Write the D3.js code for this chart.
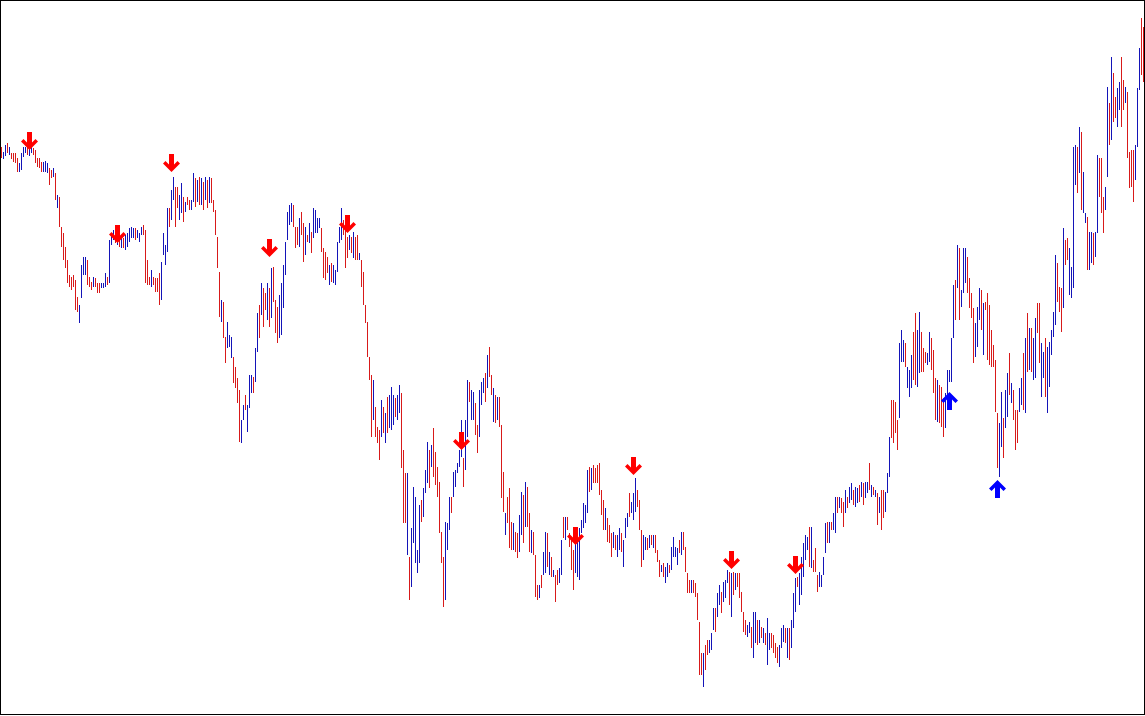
<!DOCTYPE html>
<html>
<head>
<meta charset="utf-8">
<script src="https://cdn.jsdelivr.net/npm/d3@7"></script>
<style>
  body { margin: 0; background: #fff; }
  svg { display: block; }
</style>
</head>
<body>
<svg width="1145" height="716"></svg>
<script>
// high / low per bar (price index), one bar per period
const highs = [
  853,848,855,857,853,847,847,847,842,837, 847,853,853,853,852,853,852,850,842,842,
  838,838,839,837,832,830,832,827,805,803, 773,767,753,740,725,723,725,720,703,695,
  735,743,743,740,723,718,723,722,717,717, 717,717,727,723,760,765,770,770,775,765,
  762,762,765,767,772,773,772,772,770,767, 773,775,770,740,723,730,723,722,722,727,
  738,767,755,792,792,810,823,813,813,805, 817,803,798,803,800,800,827,822,820,823,
  822,818,823,820,823,822,800,790,763,728, 700,698,663,678,665,663,643,633,622,610,
  580,595,605,595,625,625,623,652,687,695, 717,712,707,717,712,732,733,700,693,705,
  717,735,758,788,795,797,795,773,773,782, 788,777,773,765,777,768,792,790,782,782,
  772,752,748,743,735,737,735,730,758,773, 792,780,770,763,765,763,768,763,765,747,
  740,728,695,678,643,625,620,593,573,570, 600,593,587,603,605,613,605,602,605,615,
  607,550,527,527,443,472,513,503,450,495, 500,512,530,558,550,555,572,548,533,518,
  468,443,478,477,503,503,528,530,537,550, 580,542,580,620,618,610,608,597,575,610,
  618,622,627,645,653,625,612,605,603,603, 575,528,487,503,512,478,477,468,467,485,
  508,505,518,513,487,470,468,445,415,415, 425,448,468,467,448,443,430,425,430,432,
  460,483,483,483,467,460,450,457,460,472, 480,497,495,530,533,532,535,532,535,537,
  510,500,492,482,475,467,468,465,465,472, 467,460,482,487,507,498,507,522,510,500,
  470,465,463,462,465,465,465,465,450,440, 435,437,433,437,435,453,463,453,452,460,
  468,468,453,427,420,420,420,417,407,378, 347,347,355,360,360,367,392,392,407,415,
  408,418,420,430,428,427,428,427,427,427, 408,388,380,375,378,373,388,388,380,380,
  373,372,367,382,367,367,365,357,353,355, 372,375,372,372,372,380,407,422,423,427,
  443,457,465,463,473,473,440,452,425,428, 425,443,477,478,478,478,487,503,503,503,
  502,498,510,503,513,517,510,513,512,515, 518,517,518,518,537,515,513,510,507,503,
  510,510,508,527,563,600,600,598,580,657, 670,660,657,633,630,645,668,687,670,688,
  668,652,648,647,668,662,650,622,620,615, 613,602,607,630,630,662,715,720,755,752,
  710,752,752,743,722,707,692,677,693,712, 710,697,698,707,695,670,655,640,587,577,
  608,582,610,627,647,617,610,590,590,612, 622,647,662,687,672,672,662,682,697,697,
  657,648,662,653,658,670,688,745,737,713, 712,772,760,762,752,733,853,855,853,873,
  868,828,787,783,768,768,767,768,845,842, 842,803,813,913,897,943,927,903,912,918,
  943,920,913,908,848,850,850,855,912,952, 982,973
];

const lows = [
  842,841,844,847,845,841,838,837,828,828, 830,843,847,845,844,847,845,837,833,832,
  828,828,828,827,815,822,823,800,792,773, 753,740,732,717,713,710,713,690,688,677,
  702,725,725,715,713,710,713,713,707,707, 712,712,713,715,717,755,760,757,755,753,
  752,752,750,753,758,762,762,760,762,758, 765,765,717,715,715,713,715,708,708,695,
  700,745,735,748,773,780,800,773,792,780, 787,778,788,795,790,790,798,793,798,795,
  795,790,800,792,797,797,788,765,732,683, 678,662,637,652,653,642,617,612,597,558,
  557,580,590,568,592,607,607,618,648,662, 685,673,690,680,673,682,698,667,657,662,
  665,692,725,760,775,778,773,752,755,753, 765,738,745,758,757,747,762,767,767,772,
  748,722,720,727,715,718,717,715,728,757, 760,765,732,742,750,747,742,740,740,740,
  713,695,677,643,620,563,580,563,557,540, 563,567,557,567,572,570,575,583,580,587,
  532,477,477,445,400,413,457,437,427,437, 478,483,507,517,512,533,523,515,503,467,
  437,393,400,450,470,487,503,513,527,533, 543,513,530,563,598,580,580,565,547,563,
  595,607,598,612,623,605,578,577,580,573, 502,488,465,477,452,450,450,448,442,448,
  465,457,473,473,448,447,445,403,400,402, 412,425,427,433,425,423,423,398,415,417,
  425,462,460,470,453,430,410,427,423,420, 467,472,477,487,508,510,517,517,517,505,
  485,470,470,458,457,443,452,450,443,450, 448,433,462,473,483,487,480,488,493,470,
  433,440,450,450,452,455,452,447,438,423, 428,423,417,423,427,430,443,443,435,447,
  445,450,428,407,407,407,407,403,380,325, 325,313,330,345,347,350,370,368,383,395,
  387,398,402,417,395,383,405,410,413,402, 388,368,365,363,367,352,342,357,355,357,
  362,357,355,335,350,352,347,342,337,333, 352,358,357,342,340,352,372,388,413,395,
  405,423,440,450,433,432,428,428,408,413, 413,425,447,457,457,470,470,467,487,492,
  487,473,487,492,497,500,495,493,497,498, 503,495,502,507,510,503,505,503,475,487,
  470,482,488,507,523,562,557,567,550,582, 638,638,633,612,603,612,620,615,613,627,
  628,628,637,635,638,630,607,580,578,577, 573,563,572,600,618,618,662,680,712,680,
  693,707,717,707,692,682,637,643,653,680, 670,645,690,640,635,633,633,588,532,523,
  553,542,572,583,605,597,580,550,557,588, 595,590,587,628,630,628,620,622,667,637,
  603,622,603,587,613,645,663,675,698,688, 668,692,735,740,705,702,712,815,807,827,
  790,787,777,730,730,737,735,743,767,803, 787,767,790,823,855,860,878,882,873,890,
  873,890,897,842,812,813,798,820,853,910, 925,918
];

// 1 = up bar (blue), 0 = down bar (red)
const ups = [
  0,1,1,0,1,0,0,0,0,1, 1,1,1,0,1,1,0,0,0,0, 0,1,1,1,0,0,1,0,1,0, 0,0,0,0,0,0,0,0,0,1,
  1,1,1,0,0,0,1,0,0,0, 1,1,1,0,1,1,1,0,1,0, 1,0,1,1,1,1,1,0,1,1, 1,0,0,0,0,1,0,0,0,0,
  1,1,1,1,0,1,1,0,0,1, 1,0,1,0,0,1,1,0,1,0, 1,0,1,0,1,0,0,0,0,0, 1,0,0,1,1,1,0,0,0,0,
  1,1,0,1,1,1,0,1,1,0, 1,0,0,1,0,1,0,0,0,1, 1,1,1,1,1,1,0,0,0,1, 0,0,1,0,1,0,1,1,1,1,
  0,0,0,0,1,0,1,1,1,1, 1,0,0,0,1,0,1,0,0,1, 0,0,0,0,0,0,1,0,0,0, 1,0,1,0,1,1,1,0,1,1,
  0,0,0,1,0,1,1,1,1,1, 0,1,1,1,0,1,0,0,0,0, 0,0,1,1,1,0,1,1,1,1, 1,0,1,1,0,1,1,0,0,1,
  1,1,0,1,0,0,1,0,1,0, 0,0,1,0,0,0,1,0,0,1, 1,0,1,0,0,1,0,0,0,1, 0,1,1,0,1,0,1,0,0,1,
  1,0,1,0,0,0,0,1,1,1, 1,1,1,1,0,1,0,0,0,0, 0,0,1,0,0,0,1,0,1,1, 0,1,1,1,0,1,1,1,0,0,
  0,1,1,0,1,0,1,0,0,0, 1,0,1,1,0,1,1,1,1,0, 1,0,0,0,0,1,0,0,0,0, 0,1,0,0,1,1,1,0,1,1,
  0,1,1,1,0,1,0,1,0,0, 0,0,0,1,1,0,1,1,0,1, 0,1,0,1,1,0,0,0,0,1, 1,1,0,1,0,1,1,1,0,1,
  1,1,1,1,0,1,0,0,0,1, 1,1,1,0,1,0,1,1,0,1, 0,0,1,0,1,1,0,1,1,0, 1,0,1,1,0,1,0,1,0,1,
  0,0,1,1,1,0,0,0,0,1, 1,1,0,1,1,1,0,0,1,1, 0,0,0,1,1,0,0,0,1,0, 0,0,1,1,1,1,1,0,1,0,
  1,1,1,0,0,0,0,1,1,1, 0,1,0,0,0,0,0,0,0,1, 1,0,1,1,0,1,0,0,0,1, 1,0,1,0,1,0,1,1,0,0,
  1,1,0,1,1,1,1,1,0,0, 0,1,0,0,1,1,1,1,0,1, 0,1,1,0,1,1,0,1,1,0, 0,0,1,1,0,1,0,0,1,1,
  0,0,1,0,0,0,0,1,1,1, 0,0
];

// signal arrows: bar index, price of the arrow tip, kind
const arrowBar   = [14, 58, 85, 134, 173, 230, 287, 316, 365, 397, 474, 498];
const arrowPrice = [850, 757, 828, 743, 767, 550, 455, 525, 431, 426, 608, 520];
const arrowKind  = ['sell','sell','sell','sell','sell','sell','sell','sell','sell','sell','buy','buy'];

const svg = d3.select('svg');
const width = +svg.attr('width');
const height = +svg.attr('height');

const bars = highs.map((h, i) => ({ i, high: h, low: lows[i], up: ups[i] === 1 }));

// one bar every 2px, price axis runs top to bottom
const xScale = d3.scaleLinear()
  .domain([0, bars.length - 1])
  .range([1, width - 2]);

const yScale = d3.scaleLinear()
  .domain([284, 1000])
  .range([height, 0]);

svg.append('rect')
  .attr('width', width)
  .attr('height', height)
  .attr('fill', '#fff');

svg.append('g')
  .selectAll('rect')
  .data(bars)
  .enter().append('rect')
    .attr('x', d => Math.round(xScale(d.i)))
    .attr('y', d => Math.round(yScale(d.high)))
    .attr('width', 1)
    .attr('height', d => Math.max(1, Math.round(yScale(d.low) - yScale(d.high))))
    .attr('fill', d => d.up ? '#1414b8' : '#d81a1a')
    .attr('shape-rendering', 'crispEdges');

// arrow shape, tip at 0,0 pointing down
const arrowShape = 'M0,0 L8.5,-8.5 L6,-11 L2.5,-7.5 L2.5,-18 L-2.5,-18 L-2.5,-7.5 L-6,-11 L-8.5,-8.5 Z';

svg.append('g')
  .selectAll('path')
  .data(arrowBar)
  .enter().append('path')
    .attr('d', arrowShape)
    .attr('transform', (d, k) => {
      const x = Math.round(xScale(d)) + 0.5;
      const y = yScale(arrowPrice[k]);
      return arrowKind[k] === 'buy'
        ? `translate(${x},${y}) scale(1,-1)`
        : `translate(${x},${y})`;
    })
    .attr('fill', (d, k) => arrowKind[k] === 'buy' ? '#0000ff' : '#ff0000');

// frame
svg.append('rect')
  .attr('x', 0.5)
  .attr('y', 0.5)
  .attr('width', width - 1)
  .attr('height', height - 2)
  .attr('fill', 'none')
  .attr('stroke', '#000')
  .attr('stroke-width', 1);
</script>
</body>
</html>
